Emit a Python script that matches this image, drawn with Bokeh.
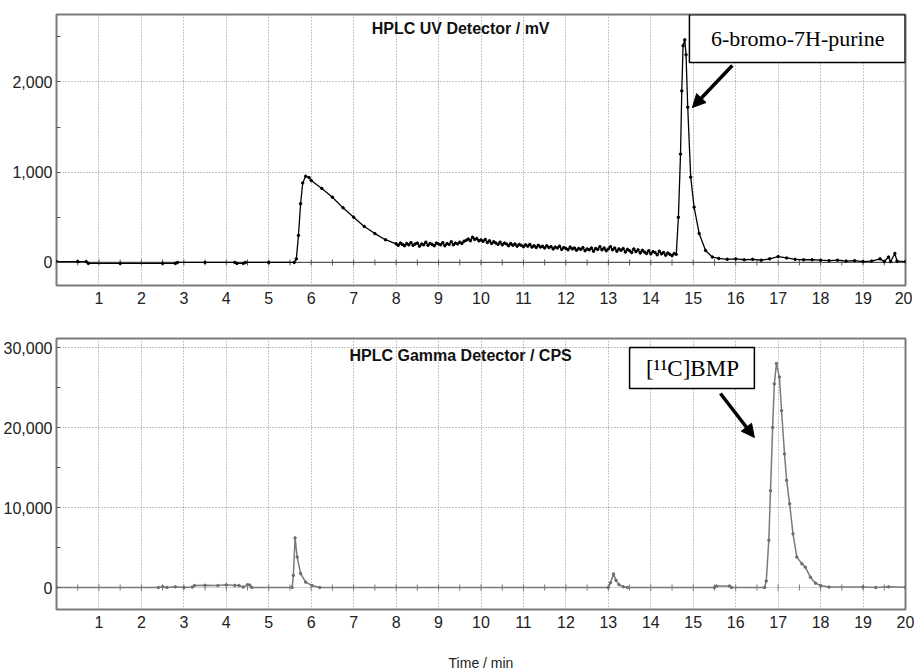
from bokeh.plotting import figure
from bokeh.layouts import column
from bokeh.models import (Range1d, FixedTicker, SingleIntervalTicker, NumeralTickFormatter,
                          Span, BoxAnnotation, Label, Arrow, NormalHead)
from bokeh.embed import file_html
from bokeh.resources import INLINE

# ---------------- data ----------------
x_tick_values = list(range(1, 21))
x_grid_values = list(range(1, 20))
zero_tick_x = [i / 2 for i in range(1, 40)]

# UV detector (mV)
uv_time = [0.0, 0.5, 0.7, 0.75, 1.5, 2.5, 2.8, 2.85, 3.5, 4.2, 4.25, 4.4, 4.45, 5.0, 5.6,
           5.65, 5.7, 5.75, 5.8, 5.87, 5.95, 6.0, 6.25, 6.5, 6.75, 7.0, 7.25, 7.5, 7.75,
           8.0, 8.05, 8.1, 8.15, 8.2, 8.25, 8.3, 8.35, 8.4, 8.45, 8.5, 8.55, 8.6, 8.65, 8.7,
           8.75, 8.8, 8.85, 8.9, 8.95, 9.0, 9.05, 9.1, 9.15, 9.2, 9.25, 9.3, 9.35, 9.4, 9.45,
           9.5, 9.55, 9.6, 9.65, 9.7, 9.75, 9.8, 9.85, 9.9, 9.95, 10.0, 10.05, 10.1, 10.15,
           10.2, 10.25, 10.3, 10.35, 10.4, 10.45, 10.5, 10.55, 10.6, 10.65, 10.7, 10.75,
           10.8, 10.85, 10.9, 10.95, 11.0, 11.05, 11.1, 11.15, 11.2, 11.25, 11.3, 11.35,
           11.4, 11.45, 11.5, 11.55, 11.6, 11.65, 11.7, 11.75, 11.8, 11.85, 11.9, 11.95,
           12.0, 12.05, 12.1, 12.15, 12.2, 12.25, 12.3, 12.35, 12.4, 12.45, 12.5, 12.55,
           12.6, 12.65, 12.7, 12.75, 12.8, 12.85, 12.9, 12.95, 13.0, 13.05, 13.1, 13.15,
           13.2, 13.25, 13.3, 13.35, 13.4, 13.45, 13.5, 13.55, 13.6, 13.65, 13.7, 13.75,
           13.8, 13.85, 13.9, 13.95, 14.0, 14.05, 14.1, 14.15, 14.2, 14.25, 14.3, 14.35,
           14.4, 14.45, 14.5, 14.55,
           14.6, 14.65, 14.7, 14.73, 14.76, 14.8, 14.83, 14.87, 14.94, 15.02, 15.14, 15.29,
           15.45, 15.6, 15.8, 16.0, 16.2, 16.4, 16.6, 16.8, 17.0, 17.2, 17.4, 17.6, 17.8,
           18.0, 18.2, 18.4, 18.6, 18.8, 19.0, 19.2, 19.4, 19.5, 19.6, 19.65, 19.75, 19.8, 20.0]
uv_mv = [10, 10, 10, -10, -10, -10, -10, 0, 0, 0, -10, -10, 0, 0, 0,
         40, 300, 650, 880, 955, 940, 908, 820, 723, 605, 502, 399, 320, 252,
         207, 190, 215, 200, 185, 210, 195, 220, 190, 205, 215, 180, 205, 195, 225,
         190, 210, 200, 185, 215, 205, 195, 220, 185, 210, 200, 230, 195, 215, 205,
         225, 210, 235, 245, 260, 240, 280, 255, 265, 240, 250, 235, 255, 220,
         240, 210, 230, 215, 200, 225, 195, 215, 205, 185, 210, 190,
         205, 180, 200, 190, 175, 195, 180, 200, 170, 185, 165, 190,
         170, 180, 160, 185, 165, 175, 150, 170, 160, 180, 145, 165,
         155, 140, 170, 150, 160, 135, 155, 145, 165, 130, 150, 140,
         160, 125, 155, 145, 175, 140, 160, 130, 150, 175, 140, 160,
         125, 150, 135, 155, 115, 145, 130, 110, 150, 120, 140, 105,
         135, 115, 100, 130, 95, 120, 110, 85, 125, 95, 110, 80,
         105, 90, 75, 100,
         90, 500, 1200, 1900, 2400, 2466, 2300, 1720, 945, 612, 320, 133,
         60, 45, 35, 40, 30, 35, 25, 40, 65, 50, 35, 30, 30,
         25, 20, 25, 15, 20, 10, 15, 40, 10, 60, 10, 100, 15, 10]

# Gamma detector (CPS)
g_time = [0.0, 2.4, 2.5, 2.6, 2.8, 3.0, 3.2, 3.25, 3.5, 3.8, 4.0, 4.2, 4.3, 4.4, 4.5,
          4.55, 4.6, 5.55, 5.58, 5.62, 5.67, 5.75, 5.87, 6.02, 6.2, 13.0, 13.05, 13.12,
          13.18, 13.25, 13.35, 13.45, 15.5, 15.55, 15.85, 15.9, 16.68, 16.72, 16.78, 16.82,
          16.87, 16.91, 16.96, 17.03, 17.08, 17.15, 17.2, 17.27, 17.35, 17.44, 17.56, 17.64,
          17.76, 17.88, 18.0, 18.2, 19.0, 19.3, 19.6, 20.0]
g_cps = [0, 0, 100, 0, 80, 0, 50, 250, 270, 250, 330, 260, 250, 50, 350,
         300, 0, 0, 1500, 6200, 3800, 1750, 670, 250, 0, 0, 600, 1700,
         900, 350, 100, 0, 0, 180, 180, 0, 0, 800, 5900, 12100,
         20000, 25450, 28000, 26300, 22100, 16700, 13400, 10460, 6700, 3800, 2960, 2540,
         1290, 540, 250, 50, 50, 0, 80, 20]

uv_title = "HPLC UV Detector / mV"
g_title = "HPLC Gamma Detector / CPS"
uv_note = "6-bromo-7H-purine"
g_note = "[\u00b9\u00b9C]BMP"

FONT = "Liberation Sans"
GRID = "#8a8a8a"


def base_fig(ymin, ymax, ygrid, yinterval, top_border, bottom_border):
    p = figure(frame_width=849, frame_height=271,
               x_range=Range1d(0, 20), y_range=Range1d(ymin, ymax),
               output_backend="svg", toolbar_location=None,
               min_border_left=54, min_border_right=9,
               min_border_top=top_border, min_border_bottom=bottom_border)
    p.outline_line_color = "#7a7a7a"
    p.outline_line_width = 2
    p.xgrid.ticker = FixedTicker(ticks=x_grid_values)
    p.ygrid.ticker = FixedTicker(ticks=ygrid)
    for g in (p.xgrid, p.ygrid):
        g.grid_line_color = GRID
        g.grid_line_dash = "1 2"
        g.grid_line_width = 1
    p.xaxis.ticker = FixedTicker(ticks=x_tick_values)
    p.yaxis.ticker = SingleIntervalTicker(interval=yinterval, num_minor_ticks=2)
    p.yaxis.formatter = NumeralTickFormatter(format="0,0")
    for ax in (p.xaxis, p.yaxis):
        ax.axis_line_color = None
        ax.major_tick_out = 0
        ax.major_tick_in = 0
        ax.major_label_text_font = FONT
        ax.major_label_text_font_size = "16px"
        ax.major_label_text_color = "#222222"
    p.xaxis.minor_tick_out = 0
    p.xaxis.minor_tick_in = 0
    p.yaxis.minor_tick_out = 0
    p.yaxis.minor_tick_in = 4
    p.yaxis.minor_tick_line_color = "#555555"
    p.xaxis.major_label_standoff = 6
    p.yaxis.major_label_standoff = 4
    return p


# ---------------- top: UV ----------------
p1 = base_fig(-255, 2746, [1000, 2000], 1000, 14, 35)
p1.add_layout(Span(location=0, dimension="width", line_color="#555555", line_width=1.2, level="underlay"))
p1.scatter(zero_tick_x, [0] * len(zero_tick_x), marker="dash", angle=1.5708, size=6,
           line_color="#555555", line_width=1)
p1.line(uv_time, uv_mv, line_color="black", line_width=1.3)
p1.scatter(uv_time, uv_mv, size=2.5, color="black")
p1.add_layout(Label(x=9.52, y=2591, text=uv_title, text_align="center", text_baseline="middle",
                    text_font=FONT, text_font_size="16px", text_font_style="bold", text_color="#111111"))
p1.add_layout(BoxAnnotation(left=14.91, right=19.99, bottom=2215, top=2744,
                            fill_color="white", fill_alpha=1, line_color="black",
                            line_alpha=1, line_width=1.5))
p1.add_layout(Label(x=17.46, y=2480, text=uv_note, text_align="center", text_baseline="middle",
                    text_font="Liberation Serif", text_font_size="22px", text_color="black"))
p1.add_layout(Arrow(end=NormalHead(size=13, fill_color="black", line_color="black"),
                    x_start=15.92, y_start=2182, x_end=14.98, y_end=1716,
                    line_width=3.5, line_color="black"))

# ---------------- bottom: gamma ----------------
p2 = base_fig(-2750, 31125, [10000, 20000, 30000], 10000, 18, 60)
p2.add_layout(Span(location=0, dimension="width", line_color="#cfcfcf", line_width=1.2, level="underlay"))
p2.scatter(zero_tick_x, [0] * len(zero_tick_x), marker="dash", angle=1.5708, size=6,
           line_color="#777777", line_width=1)
p2.line(g_time, g_cps, line_color="#7a7a7a", line_width=1.5)
p2.scatter(g_time, g_cps, size=2.5, color="#6e6e6e")
p2.add_layout(Label(x=9.52, y=29000, text=g_title, text_align="center", text_baseline="middle",
                    text_font=FONT, text_font_size="16px", text_font_style="bold", text_color="#111111"))
p2.add_layout(BoxAnnotation(left=13.5, right=16.44, bottom=24875, top=30000,
                            fill_color="white", fill_alpha=1, line_color="black",
                            line_alpha=1, line_width=1.5))
p2.add_layout(Label(x=14.98, y=27375, text=g_note, text_align="center", text_baseline="middle",
                    text_font="Liberation Serif", text_font_size="23px", text_color="black"))
p2.add_layout(Arrow(end=NormalHead(size=13, fill_color="black", line_color="black"),
                    x_start=15.64, y_start=24250, x_end=16.44, y_end=18750,
                    line_width=3.5, line_color="black"))
p2.xaxis.axis_label = "Time / min"
p2.xaxis.axis_label_text_font = FONT
p2.xaxis.axis_label_text_font_size = "14px"
p2.xaxis.axis_label_text_font_style = "normal"
p2.xaxis.axis_label_text_color = "#222222"
p2.xaxis.axis_label_standoff = 24

layout = column(p1, p2, spacing=0)
open("out.html", "w").write(file_html(layout, INLINE))
